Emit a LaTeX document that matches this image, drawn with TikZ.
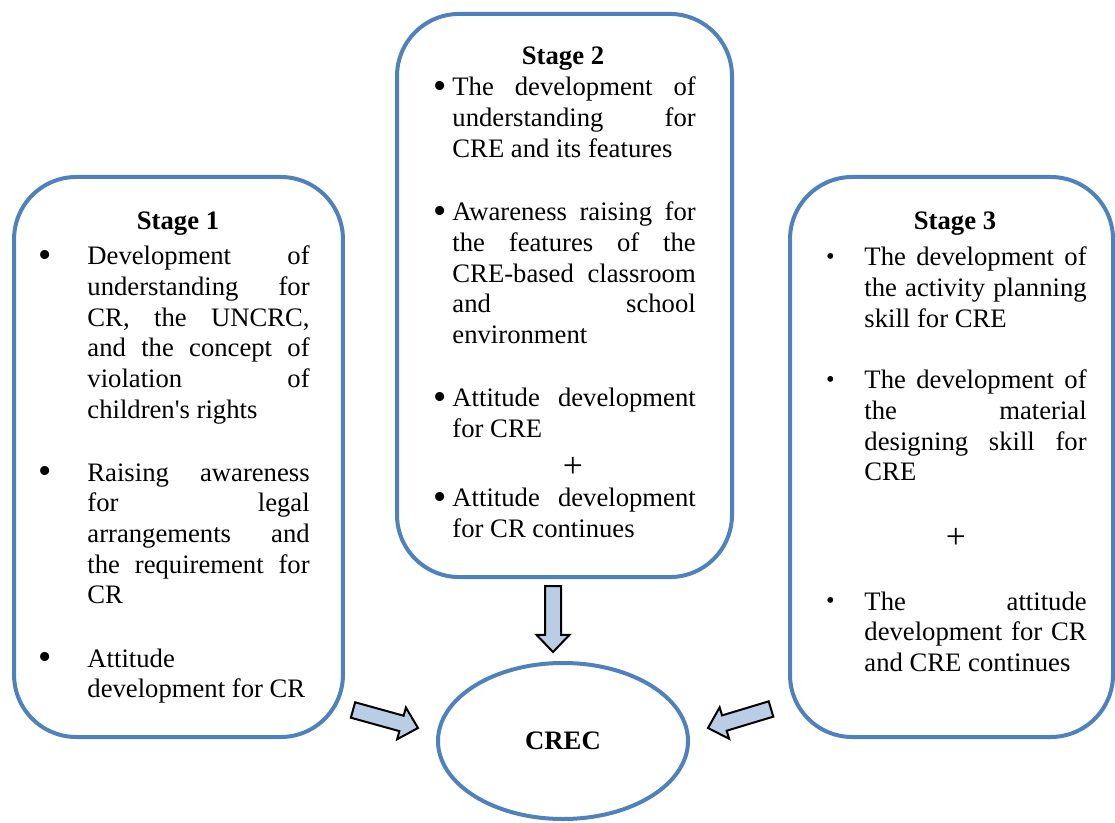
\documentclass[tikz,border=0pt]{standalone}
\usepackage{fontspec}
\setmainfont{Liberation Serif}
\usetikzlibrary{shapes.geometric,calc}

\definecolor{stageblue}{HTML}{4F81BD}
\definecolor{arrowblue}{HTML}{B9CDE5}

\tolerance=10000 \hbadness=10000 \hyphenpenalty=10000

% bullet hanging to the left of a paragraph: size, raise, gap
\newcommand{\bul}[3]{\strut\llap{\raisebox{#2}{\fontsize{#1}{#1}\selectfont\textbullet}\hspace*{#3}}}
% wide block arrow between two named coordinates
\newcommand{\blockarrow}[2]{%
  \coordinate (ba-h) at ($(#2)!7.7pt!(#1)$);
  \draw[flow arrow] ($(#1)!3.6pt!90:(#2)$) -- ($(ba-h)!3.6pt!-90:(#1)$) -- ($(ba-h)!7.4pt!-90:(#1)$)
    -- (#2) -- ($(ba-h)!7.4pt!90:(#1)$) -- ($(ba-h)!3.6pt!90:(#1)$) -- ($(#1)!3.6pt!-90:(#2)$) -- cycle;}

\begin{document}
\begin{tikzpicture}[x=0.45pt, y=-0.45pt]

        % Styles
        \tikzstyle{stage box}=[draw=stageblue, line width=1.8pt, rounded corners=28pt, inner sep=0pt]
        \tikzstyle{stage ellipse}=[ellipse, draw=stageblue, line width=1.8pt, inner sep=0pt,
                                   minimum width=112.5pt, minimum height=70.2pt,
                                   font=\fontsize{12}{13.8}\selectfont\bfseries]
        \tikzstyle{title}=[anchor=base, inner sep=0pt, font=\fontsize{12}{13.8}\selectfont\bfseries]
        \tikzstyle{para}=[anchor=base west, inner sep=0pt, align=justify, font=\fontsize{12}{13.8}\selectfont]
        \tikzstyle{plus}=[inner sep=0pt, font=\fontsize{16}{16}\selectfont]
        \tikzstyle{flow arrow}=[draw=black, line width=0.9pt, fill=arrowblue, line join=miter]
        \useasboundingbox (0,0) rectangle (1115,823);

        %boxes
        \node[stage box, minimum width=148pt, minimum height=252pt] (s1) at (178.5,457) {};
        \node[stage box, minimum width=150.75pt, minimum height=253.4pt] (s2) at (564.5,295.5) {};
        \node[stage box, minimum width=145.35pt, minimum height=252pt] (s3) at (951.5,457) {};
        \node[stage ellipse] (crec) at (563,741) {CREC};

        %Stage 1
        \node[title] (t1) at (178,230) {Stage 1};
        \node[para, text width=100pt] (p1a) at (87,265) {\bul{17}{-1.3pt}{15.9pt}Development of\linebreak
            understanding for\linebreak CR, the UNCRC,\linebreak and the concept of\linebreak
            violation of\linebreak children\textquotesingle s rights};
        \node[para, text width=100pt] (p1b) at (87,481) {\bul{17}{-1.3pt}{15.9pt}Raising awareness\linebreak
            for legal\linebreak arrangements and\linebreak the requirement for\linebreak CR};
        \node[para, text width=100pt] (p1c) at (87,667) {\bul{17}{-1.3pt}{15.9pt}Attitude\linebreak development~for~CR};

        %Stage 2
        \node[title] (t2) at (563,65) {Stage 2};
        \node[para, text width=109.5pt] (p2a) at (452,96) {\bul{17}{-1.3pt}{2.4pt}The development of\linebreak
            understanding for\linebreak CRE and its features};
        \node[para, text width=109.5pt] (p2b) at (452,221) {\bul{17}{-1.3pt}{2.4pt}Awareness raising for\linebreak
            the features of the\linebreak CRE-based classroom\linebreak and school\linebreak environment};
        \node[para, text width=109.5pt] (p2c) at (452,407) {\bul{17}{-1.3pt}{2.4pt}Attitude development\linebreak for CRE};
        \node[plus] (plus2) at (573,467) {+};
        \node[para, text width=109.5pt] (p2d) at (452,507) {\bul{17}{-1.3pt}{2.4pt}Attitude development\linebreak
            for CR continues};

        %Stage 3
        \node[title] (t3) at (955,230) {Stage 3};
        \node[para, text width=100pt] (p3a) at (864,266) {\bul{11}{0.5pt}{13.4pt}The development of\linebreak
            the activity planning\linebreak skill for CRE};
        \node[para, text width=100pt] (p3b) at (864,389) {\bul{11}{0.5pt}{13.4pt}The development of\linebreak
            the material\linebreak designing skill for\linebreak CRE};
        \node[plus] (plus3) at (956,538) {+};
        \node[para, text width=100pt] (p3c) at (864,610) {\bul{11}{0.5pt}{13.4pt}The attitude\linebreak
            development for CR\linebreak and CRE continues};

        %arrows
        \coordinate (a1-s) at (353,710);
        \coordinate (a1-e) at (418,728);
        \coordinate (a2-s) at (553,586);
        \coordinate (a2-e) at (553,652);
        \coordinate (a3-s) at (771,709);
        \coordinate (a3-e) at (708,728);
        \blockarrow{a1-s}{a1-e}
        \blockarrow{a2-s}{a2-e}
        \blockarrow{a3-s}{a3-e}
\end{tikzpicture}
\end{document}
